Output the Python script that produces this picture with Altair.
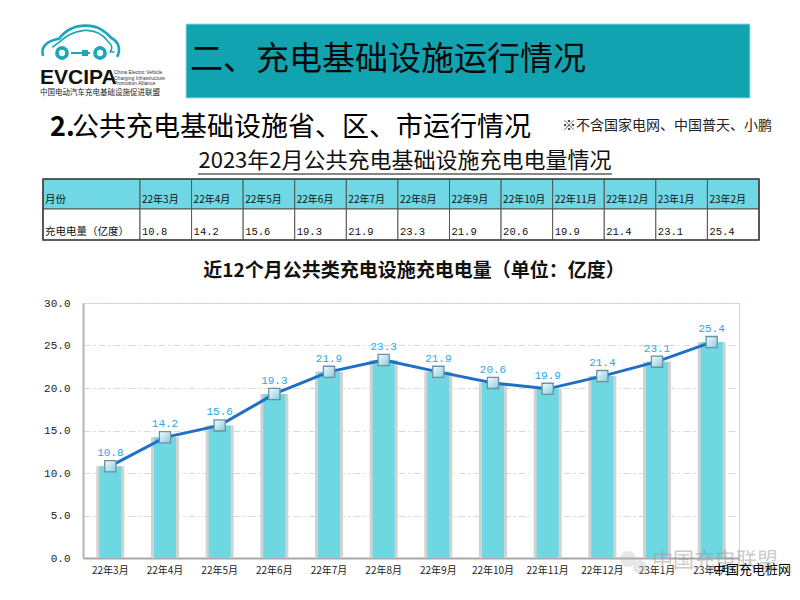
import altair as alt
import pandas as pd

# ---------------- data ----------------
months = ["22年3月", "22年4月", "22年5月", "22年6月", "22年7月", "22年8月",
          "22年9月", "22年10月", "22年11月", "22年12月", "23年1月", "23年2月"]
values = [10.8, 14.2, 15.6, 19.3, 21.9, 23.3, 21.9, 20.6, 19.9, 21.4, 23.1, 25.4]
y_ticks = [0, 5, 10, 15, 20, 25, 30]

slide_title = "二、充电基础设施运行情况"
section_num = "2."
section_title = "公共充电基础设施省、区、市运行情况"
note_text = "※不含国家电网、中国普天、小鹏"
table_title = "2023年2月公共充电基础设施充电电量情况"
row_head = ["月份", "充电电量（亿度）"]
chart_title = "近12个月公共类充电设施充电电量（单位：亿度）"
logo_big = "EVCIPA"
logo_en = ["China Electric Vehicle", "Charging Infrastructure", "Promotion Alliance"]
logo_cn = "中国电动汽车充电基础设施促进联盟"
wm_faded = "中国充电联盟"
wm_black = "中国充电桩网"

df = pd.DataFrame({"month": months, "value": values,
                   "label": [f"{v:.1f}" for v in values]})

CJK = "Noto Sans CJK SC"
MONO = "Liberation Mono"

# plot origin on page: (83, 303)
OX, OY = 83, 303


def px(x):
    return alt.value(x - OX)


def py(y):
    return alt.value(y - OY)


def txt(text, x, y, size, align="left", color="#000", weight="normal", font=CJK, opacity=1):
    return alt.Chart(pd.DataFrame({"t": [text]})).mark_text(
        align=align, baseline="middle", fontSize=size, font=font,
        fontWeight=weight, color=color, opacity=opacity
    ).encode(text="t:N", x=px(x), y=py(y))


one = pd.DataFrame({"k": [0]})

# ---------------- main chart ----------------
xs = alt.Scale(type="band", domain=months, paddingInner=0, paddingOuter=0)
ys = alt.Scale(domain=[0, 30], nice=False)

x_axis = alt.Axis(title=None, labelAngle=0, ticks=False, labelFont=CJK, labelFontSize=10,
                  labelColor="#222", labelPadding=7, domainColor="#A8A8A8", domainWidth=2)
y_axis = alt.Axis(title=None, values=y_ticks, format=".1f", ticks=False, labelFont=MONO,
                  labelFontSize=11, labelColor="#222", labelPadding=13,
                  domainColor="#B5B5B5", domainWidth=2, grid=True, gridColor="#D9D9D9",
                  gridDash=[7, 3, 2, 3], gridWidth=1)

Y = alt.Y("value:Q", scale=ys, axis=y_axis)

base = alt.Chart(df)
shadow = base.mark_bar(size=28, color="#D2D2D2").encode(
    x=alt.X("month:N", sort=months, scale=xs, axis=x_axis), y=Y)
bars = base.mark_bar(size=22, color="#6DD7E2").encode(
    x=alt.X("month:N", sort=months, scale=xs, axis=None), y=Y)
line = base.mark_line(color="#1F70C4", strokeWidth=3).encode(
    x=alt.X("month:N", sort=months, scale=xs, axis=None), y=Y)
marks = base.mark_square(
    size=125, opacity=1, stroke="#6F8FA0", strokeWidth=1.3,
    fill=alt.LinearGradient(gradient="linear", x1=0, y1=0, x2=1, y2=1,
                            stops=[alt.GradientStop(offset=0, color="#F4FCFE"),
                                   alt.GradientStop(offset=1, color="#86CCE0")])
).encode(x=alt.X("month:N", sort=months, scale=xs, axis=None), y=Y)
labels = base.mark_text(dy=-13, color="#29A7E6", font=MONO, fontSize=11).encode(
    x=alt.X("month:N", sort=months, scale=xs, axis=None), y=Y, text="label:N")

# ---------------- table ----------------
ts = alt.Scale(type="band", domain=months, range=[140 - OX, 759 - OX],
               paddingInner=0, paddingOuter=0)
T_TOP, T_MID, T_BOT = 179, 209, 240
tb = alt.Chart(df)
head_cells = tb.mark_rect(fill="#70D8E5", stroke="#555", strokeWidth=1).encode(
    x=alt.X("month:N", sort=months, scale=ts, axis=None), y=py(T_TOP), y2=py(T_MID))
data_cells = tb.mark_rect(fill="white", stroke="#555", strokeWidth=1).encode(
    x=alt.X("month:N", sort=months, scale=ts, axis=None), y=py(T_MID), y2=py(T_BOT))
head_text = tb.mark_text(align="left", baseline="middle", dx=2, font=CJK, fontSize=10,
                         color="#111").encode(
    x=alt.X("month:N", sort=months, scale=ts, axis=None, bandPosition=0),
    y=py(200), text="month:N")
data_text = tb.mark_text(align="left", baseline="middle", dx=2, font=MONO, fontSize=10.5,
                         color="#111").encode(
    x=alt.X("month:N", sort=months, scale=ts, axis=None, bandPosition=0),
    y=py(232), text="label:N")
first_head = alt.Chart(one).mark_rect(fill="#70D8E5", stroke="#555", strokeWidth=1).encode(
    x=px(43), x2=px(140), y=py(T_TOP), y2=py(T_MID))
first_data = alt.Chart(one).mark_rect(fill="white", stroke="#555", strokeWidth=1).encode(
    x=px(43), x2=px(140), y=py(T_MID), y2=py(T_BOT))
t_outline = alt.Chart(one).mark_rect(fill=None, stroke="#444", strokeWidth=1.6, filled=False).encode(
    x=px(43), x2=px(759), y=py(T_TOP), y2=py(T_BOT))

# ---------------- header / logo ----------------
header_box = alt.Chart(one).mark_rect(fill="#12A3B1", stroke="#9FD9E0", strokeWidth=1).encode(
    x=px(186), x2=px(750), y=py(24), y2=py(98))

car_outer = ("M -0.95 0.3 C -1.02 0.02 -0.8 -0.08 -0.55 -0.13 C -0.38 -0.36 -0.15 -0.46 0.12 -0.46 "
             "C 0.45 -0.46 0.62 -0.3 0.76 -0.15 C 0.95 -0.05 1.0 0.15 0.9 0.32")
car_inner = ("M -0.72 0.08 C -0.5 -0.05 -0.35 -0.3 0.08 -0.34 C 0.4 -0.36 0.58 -0.2 0.68 -0.06 "
             "C 0.78 0.02 0.8 0.12 0.72 0.2 M 0.72 0.2 L 0.84 0.2")
car1 = alt.Chart(one).mark_point(shape=car_outer, size=6400, filled=False, stroke="#1AA7B8",
                                 strokeWidth=2.6, opacity=1).encode(x=px(81), y=py(44))
car2 = alt.Chart(one).mark_point(shape=car_inner, size=6400, filled=False, stroke="#1AA7B8",
                                 strokeWidth=1.6, opacity=1).encode(x=px(81), y=py(44))
wheel1 = alt.Chart(one).mark_circle(size=190, color="#1AA7B8", opacity=1).encode(x=px(62), y=py(53))
wheel2 = alt.Chart(one).mark_circle(size=190, color="#1AA7B8", opacity=1).encode(x=px(100), y=py(53))
hub1 = alt.Chart(one).mark_circle(size=40, color="white", opacity=1).encode(x=px(62), y=py(53))
hub2 = alt.Chart(one).mark_circle(size=40, color="white", opacity=1).encode(x=px(100), y=py(53))
plug = alt.Chart(one).mark_rule(color="#1AA7B8", strokeWidth=2).encode(
    x=px(71), x2=px(90), y=py(53))
plug_head = alt.Chart(one).mark_rect(color="#1AA7B8").encode(
    x=px(82), x2=px(88), y=py(50), y2=py(56))

logo_layers = [
    car1, car2, wheel1, wheel2, hub1, hub2, plug, plug_head,
    txt(logo_big, 40, 78, 21, weight="bold", font="Liberation Sans", color="#111"),
    txt(logo_en[0], 114, 72, 5, color="#333", font="Liberation Sans"),
    txt(logo_en[1], 114, 77.5, 5, color="#333", font="Liberation Sans"),
    txt(logo_en[2], 114, 83, 5, color="#333", font="Liberation Sans"),
    txt(logo_cn, 40, 93, 7.5, color="#222"),
]

underline = alt.Chart(one).mark_rule(color="#111", strokeWidth=1.2).encode(
    x=px(198), x2=px(612), y=py(174))

text_layers = [
    txt(slide_title, 190, 60, 33, color="#0A0A0A"),
    txt(section_num, 50, 128, 27, weight="bold"),
    txt(section_title, 72, 128, 27),
    txt(note_text, 562, 126, 14, color="#222"),
    txt(table_title, 405, 161, 22, align="center", color="#111"),
    underline,
    txt(row_head[0], 45, 200, 10.5, color="#111"),
    txt(row_head[1], 45, 232, 10.5, color="#111"),
    txt(chart_title, 414, 271, 19, align="center", weight="bold", color="#111"),
]

# watermark
wm_icon1 = alt.Chart(one).mark_circle(size=260, color="#BBBBBB", opacity=0.35).encode(x=px(628), y=py(559))
wm_icon2 = alt.Chart(one).mark_circle(size=200, color="#BBBBBB", opacity=0.35).encode(x=px(640), y=py(567))
wm_layers = [
    wm_icon1, wm_icon2,
    txt(wm_faded, 715, 561, 21, align="center", color="#999999", opacity=0.5),
    txt(wm_black, 752, 570, 13, align="center", color="#000"),
]

chart = alt.layer(
    header_box, *logo_layers, *text_layers[:6],
    first_head, first_data, head_cells, data_cells, t_outline,
    head_text, data_text, *text_layers[6:],
    shadow, bars, line, marks, labels,
    *wm_layers,
).resolve_scale(x="independent").properties(
    width=656, height=255,
    autosize=alt.AutoSizeParams(type="none"),
    padding={"left": OX - 8, "top": OY - 8, "right": 52, "bottom": 28},
    background="white",
).configure_view(stroke="#B8DCEA", strokeWidth=1)

chart.save("out.html", embed_options={"renderer": "svg", "actions": False})
